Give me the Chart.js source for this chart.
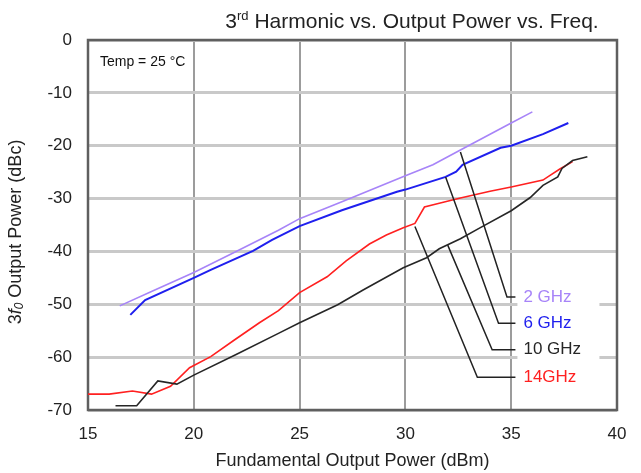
<!DOCTYPE html>
<html>
<head>
<meta charset="utf-8">
<script src="https://cdn.jsdelivr.net/npm/chart.js@4/dist/chart.umd.min.js"></script>
<style>
  html, body { margin: 0; padding: 0; background: #fff; }
</style>
</head>
<body>
<canvas id="harm" width="641" height="473"></canvas>
<script>
// fundamental output power (dBm) and 3rd harmonic level (dBc) per frequency
const pout2 = [16.5, 18, 20, 22, 24, 25, 27, 30, 31.3, 32.6, 35, 36];
const h3_2 = [-50.3, -47.6, -44, -40, -36, -33.8, -30.6, -25.7, -23.6, -20.8, -15.7, -13.6];

const pout6 = [17, 17.7, 20, 20.8, 22.8, 23.7, 25, 27, 29.6, 30, 31.9, 32.4, 32.7, 34.5, 35, 36.5, 37.7];
const h3_6 = [-52, -49.2, -45, -43.5, -39.9, -37.8, -35.2, -32.2, -28.7, -28.3, -25.9, -24.9, -23.6, -20.4, -20, -17.8, -15.7];

const pout10 = [16.3, 17.3, 18.3, 19.2, 20, 22, 24, 25, 26.8, 28, 29.9, 31, 31.6, 32.6, 33.5, 35, 35.9, 36.5, 37.2, 37.4, 37.9, 38.6];
const h3_10 = [-69.2, -69.2, -64.5, -65.1, -63.4, -59.5, -55.5, -53.5, -50.1, -47.3, -43.1, -41.2, -39.5, -37.6, -35.6, -32.3, -29.8, -27.5, -25.9, -24.3, -22.8, -22.1];

const pout14 = [15, 16, 17.1, 18, 18.9, 19.8, 20.8, 21.9, 23.1, 24, 25, 26.3, 27.2, 28.3, 29.1, 29.9, 30.45, 30.9, 31.6, 32.6, 34, 35, 36.5, 36.8, 37.3, 37.9];
const h3_14 = [-67, -67, -66.4, -67, -65.5, -62, -59.9, -56.8, -53.5, -51.2, -47.8, -44.8, -41.8, -38.6, -36.9, -35.5, -34.7, -31.6, -30.9, -29.9, -28.6, -27.8, -26.5, -25.7, -24.4, -23];

// callout lines from each curve to its label
const leadX = [[32.6, 34.8, 35.2], [31.9, 34.4, 35.2], [32.0, 34.1, 35.2], [30.45, 33.4, 35.2]];
const leadY = [[-21.2, -48.6, -48.6], [-25.9, -53.6, -53.6], [-38.8, -58.6, -58.6], [-35.3, -63.8, -63.8]];

const seriesNames = ['2 GHz', '6 GHz', '10 GHz', '14GHz'];
const seriesColors = ['#a784f8', '#1f1fee', '#262626', '#ff2020'];

const xTicks = [15, 20, 25, 30, 35, 40];
const yTicks = [0, -10, -20, -30, -40, -50, -60, -70];

const FONT = '"Liberation Sans", Arial, sans-serif';

function pts(xs, ys) {
  return xs.map((x, i) => ({ x: x, y: ys[i] }));
}

const curves = [[pout2, h3_2], [pout6, h3_6], [pout10, h3_10], [pout14, h3_14]];

const datasets = [];
leadX.forEach((xs, i) => {
  datasets.push({
    data: pts(xs, leadY[i]),
    borderColor: '#222',
    borderWidth: 1.5,
    pointRadius: 0,
    showLine: true,
    tension: 0
  });
});
curves.forEach((c, i) => {
  datasets.push({
    label: seriesNames[i],
    data: pts(c[0], c[1]),
    borderColor: seriesColors[i],
    borderWidth: i === 1 ? 2 : 1.6,
    pointRadius: 0,
    showLine: true,
    tension: 0
  });
});

// frame, white boxes behind the in-plot text, and the annotation labels
const decor = {
  id: 'decor',
  beforeDatasetsDraw(chart) {
    const ctx = chart.ctx;
    const a = chart.chartArea;
    const xs = chart.scales.x, ys = chart.scales.y;
    ctx.save();
    ctx.fillStyle = '#fff';
    ctx.fillRect(a.left + 8, a.top + 10, 90, 24);
    const lx = xs.getPixelForValue(35.2);
    ctx.fillRect(lx + 2, ys.getPixelForValue(-46), 82, ys.getPixelForValue(-66) - ys.getPixelForValue(-46));
    ctx.strokeStyle = '#5f5f5f';
    ctx.lineWidth = 2.5;
    ctx.strokeRect(a.left, a.top, a.right - a.left, a.bottom - a.top);
    ctx.restore();
  },
  afterDatasetsDraw(chart) {
    const ctx = chart.ctx;
    const a = chart.chartArea;
    const xs = chart.scales.x, ys = chart.scales.y;
    ctx.save();
    ctx.textBaseline = 'middle';
    ctx.textAlign = 'left';
    ctx.font = '14px ' + FONT;
    ctx.fillStyle = '#111';
    ctx.fillText('Temp = 25 °C', a.left + 12, a.top + 22);

    ctx.font = '17px ' + FONT;
    seriesNames.forEach((name, i) => {
      const n = leadX[i].length - 1;
      ctx.fillStyle = seriesColors[i];
      ctx.fillText(name, xs.getPixelForValue(leadX[i][n]) + 8, ys.getPixelForValue(leadY[i][n]));
    });
    ctx.restore();
  },
  afterDraw(chart) {
    const ctx = chart.ctx;
    const a = chart.chartArea;
    ctx.save();
    ctx.fillStyle = '#222';
    ctx.textBaseline = 'alphabetic';
    ctx.textAlign = 'left';

    // title with superscript
    const big = '21px ' + FONT, small = '13px ' + FONT;
    ctx.font = big;
    const w1 = ctx.measureText('3').width;
    const w3 = ctx.measureText(' Harmonic vs. Output Power vs. Freq.').width;
    ctx.font = small;
    const w2 = ctx.measureText('rd').width;
    const tx = 412 - (w1 + w2 + w3) / 2;
    const ty = 28;
    ctx.font = big;
    ctx.fillText('3', tx, ty);
    ctx.font = small;
    ctx.fillText('rd', tx + w1, ty - 8);
    ctx.font = big;
    ctx.fillText(' Harmonic vs. Output Power vs. Freq.', tx + w1 + w2, ty);

    // x-axis title
    ctx.font = '18px ' + FONT;
    ctx.textAlign = 'center';
    ctx.textBaseline = 'middle';
    ctx.fillText('Fundamental Output Power (dBm)', (a.left + a.right) / 2, 461);

    // y-axis title: 3f0 Output Power (dBc)
    ctx.translate(16, (a.top + a.bottom) / 2 + 7);
    ctx.rotate(-Math.PI / 2);
    ctx.textAlign = 'left';
    ctx.textBaseline = 'middle';
    const parts = [
      ['3', '18px ' + FONT, 0],
      ['f', 'italic 18px ' + FONT, 0],
      ['0', 'italic 12px ' + FONT, 4],
      [' Output Power (dBc)', '18px ' + FONT, 0]
    ];
    let total = 0;
    parts.forEach(p => { ctx.font = p[1]; total += ctx.measureText(p[0]).width; });
    let px = -total / 2;
    parts.forEach(p => {
      ctx.font = p[1];
      ctx.fillText(p[0], px, p[2]);
      px += ctx.measureText(p[0]).width;
    });
    ctx.restore();
  }
};

new Chart(document.getElementById('harm'), {
  type: 'scatter',
  data: { datasets: datasets },
  options: {
    responsive: false,
    animation: false,
    layout: { padding: { top: 40, right: 24, left: 0, bottom: 0 } },
    plugins: {
      legend: { display: false },
      title: { display: false },
      tooltip: { enabled: false }
    },
    scales: {
      x: {
        type: 'linear',
        min: xTicks[0],
        max: xTicks[xTicks.length - 1],
        afterBuildTicks(scale) { scale.ticks = xTicks.map(v => ({ value: v })); },
        afterFit(scale) { scale.height = 63; },
        ticks: { color: '#222', font: { size: 17, family: FONT }, padding: 14, maxRotation: 0 },
        grid: { color: '#9c9c9c', lineWidth: 2, drawTicks: false },
        border: { display: false }
      },
      y: {
        type: 'linear',
        min: yTicks[yTicks.length - 1],
        max: yTicks[0],
        afterBuildTicks(scale) { scale.ticks = yTicks.slice().reverse().map(v => ({ value: v })); },
        afterFit(scale) { scale.width = 88; },
        ticks: { color: '#222', font: { size: 17, family: FONT }, padding: 16 },
        grid: { color: '#c9c9c9', lineWidth: 3, drawTicks: false },
        border: { display: false }
      }
    }
  },
  plugins: [decor]
});
</script>
</body>
</html>
